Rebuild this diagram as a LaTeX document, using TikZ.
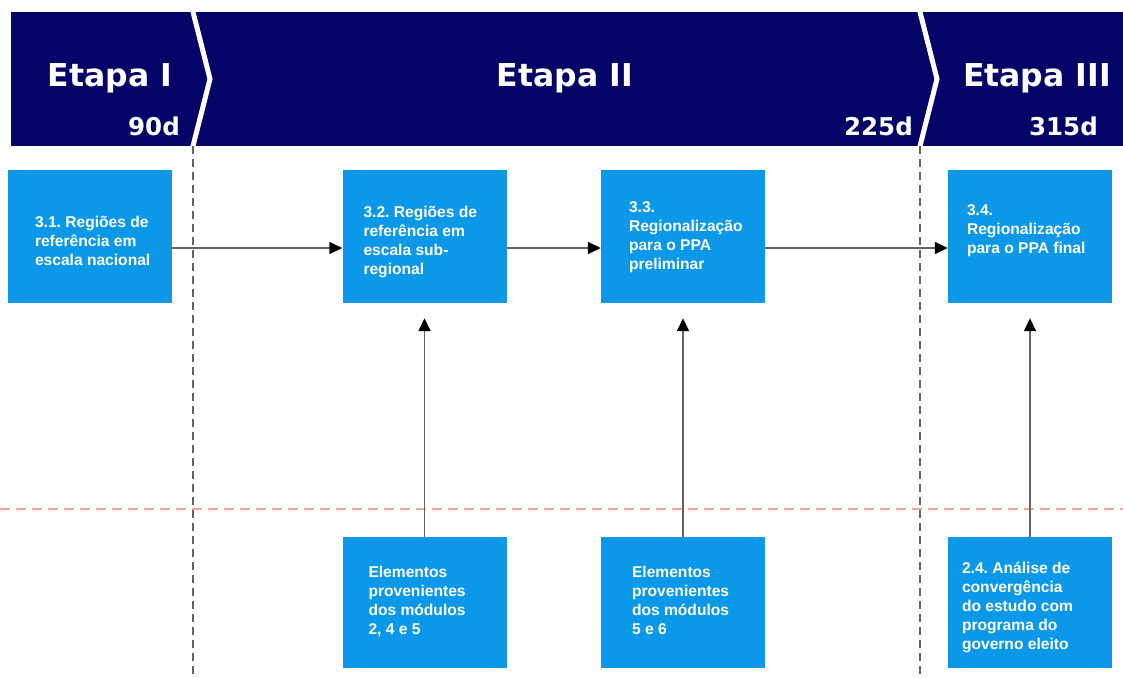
\documentclass[tikz,border=0pt]{standalone}
\usepackage{fontspec}
\newfontfamily\headfont{DejaVu Sans}
\newfontfamily\boxfont{Liberation Sans}
\usetikzlibrary{calc, arrows.meta}

\definecolor{bandnavy}{RGB}{4,4,104}
\definecolor{boxblue}{RGB}{12,152,232}
\definecolor{cutorange}{RGB}{247,168,128}
\definecolor{linegray}{RGB}{100,100,100}

\newcommand{\boxlines}[1]{\parbox[t]{170pt}{\raggedright\frenchspacing #1}}

\tikzset{
  bluebox/.style={fill=boxblue, minimum width=164pt, minimum height=133pt, inner sep=0pt},
  lowbox/.style={bluebox, minimum height=131pt},
  boxtext/.style={anchor=base west, inner sep=0pt, text=white,
    font=\boxfont\bfseries\fontsize{15.6}{19}\selectfont},
  etapa/.style={anchor=base, inner sep=0pt, text=white,
    font=\headfont\bfseries\fontsize{31.5}{36}\selectfont},
  dias/.style={anchor=base east, inner sep=0pt, text=white,
    font=\headfont\bfseries\fontsize{24.5}{30}\selectfont},
  flow/.style={draw=linegray, line width=1.5pt, -{Triangle[length=13pt,width=12pt,black]}},
  limit/.style={draw=linegray, line width=1.2pt, dash pattern=on 8pt off 5pt}
}

\begin{document}
\begin{tikzpicture}[x=1pt, y=-1pt]
  \useasboundingbox[fill=white] (0,0) rectangle (1123,677);

  % header band with the stage chevrons
  \fill[bandnavy] (11,12) rectangle (1123,146);
  \draw[white, line width=5pt, line join=miter] (192,8) -- (210,79) -- (192,150);
  \draw[white, line width=5pt, line join=miter] (919,8) -- (937,79) -- (919,150);

  \node[etapa] (etapa1) at (110,86) {Etapa I};
  \node[etapa] (etapa2) at (565,86) {Etapa II};
  \node[etapa] (etapa3) at (1037,86) {Etapa III};
  \node[dias] (dias1) at (180,135) {90d};
  \node[dias] (dias2) at (913,135) {225d};
  \node[dias] (dias3) at (1098,135) {315d};

  % stage limits
  \draw[limit] (193,146) -- (193,677);
  \draw[limit] (920,146) -- (920,677);

  % module cut
  \draw[cutorange, line width=2pt, dash pattern=on 10pt off 6pt] (0,509) -- (1123,509);

  % upper row
  \node[bluebox] (reg31) at (90,236.5) {};
  \node[bluebox] (reg32) at (424.5,236.5) {};
  \node[bluebox] (reg33) at (683,236.5) {};
  \node[bluebox] (reg34) at (1030,236.5) {};

  \node[boxtext] (txt31) at ($(reg31.north west)+(27,58)$)
    {\boxlines{3.1. Regiões de\\referência em\\escala nacional}};
  \node[boxtext] (txt32) at ($(reg32.north west)+(21,48)$)
    {\boxlines{3.2. Regiões de\\referência em\\escala sub-\\regional}};
  \node[boxtext] (txt33) at ($(reg33.north west)+(28,43)$)
    {\boxlines{3.3.\\Regionalização\\para o PPA\\preliminar}};
  \node[boxtext] (txt34) at ($(reg34.north west)+(19,46)$)
    {\boxlines{3.4.\\Regionalização\\para o PPA final}};

  % lower row
  \node[lowbox] (elem245) at (424.5,602.5) {};
  \node[lowbox] (elem56) at (683,602.5) {};
  \node[lowbox] (conv24) at (1030,602.5) {};

  \node[boxtext] (txt245) at ($(elem245.north west)+(26,41)$)
    {\boxlines{Elementos\\provenientes\\dos módulos\\2, 4 e 5}};
  \node[boxtext] (txt56) at ($(elem56.north west)+(31,41)$)
    {\boxlines{Elementos\\provenientes\\dos módulos\\5 e 6}};
  \node[boxtext] (txt24) at ($(conv24.north west)+(14,37)$)
    {\boxlines{2.4. Análise de\\convergência\\do estudo com\\programa do\\governo eleito}};

  % connectors
  \draw[flow] ([yshift=-11.5pt]reg31.east) -- ([yshift=-11.5pt]reg32.west);
  \draw[flow] ([yshift=-11.5pt]reg32.east) -- ([yshift=-11.5pt]reg33.west);
  \draw[flow] ([yshift=-11.5pt]reg33.east) -- ([yshift=-11.5pt]reg34.west);
  \draw[flow, shorten >=15pt] (elem245.north) -- (reg32.south);
  \draw[flow, shorten >=15pt] (elem56.north) -- (reg33.south);
  \draw[flow, shorten >=15pt] (conv24.north) -- (reg34.south);
\end{tikzpicture}
\end{document}
